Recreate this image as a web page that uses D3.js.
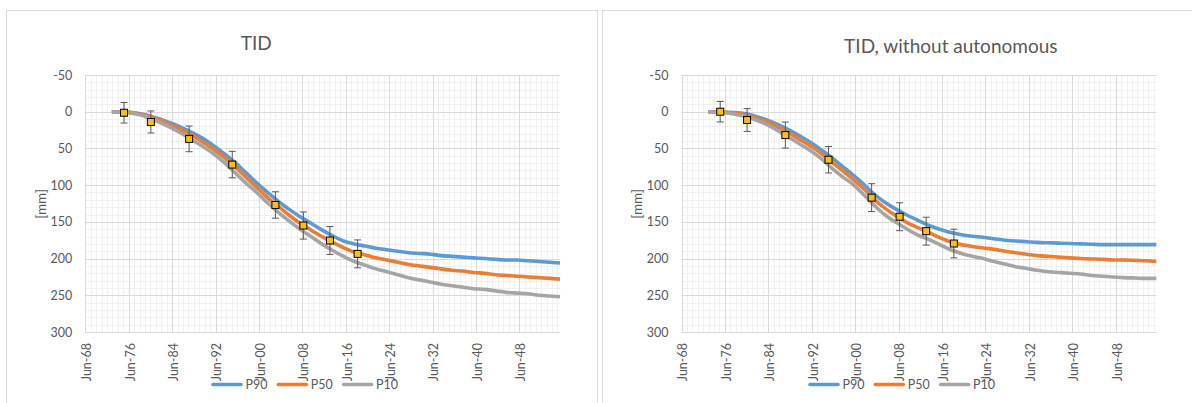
<!DOCTYPE html>
<html><head><meta charset="utf-8">
<script src="https://cdn.jsdelivr.net/npm/d3@7"></script>
<style>body{margin:0;background:#fff} text{font-family:Lato, "Open Sans", sans-serif}</style>
</head><body><svg id="c" width="1192" height="403"></svg>
<script>
// ---- data ----
const years = [1973.3,1976,1978,1980,1982,1984,1986,1988,1990,1992,1994,1996,1998,2000,2002,2004,2006,2008,2010,2012,2014,2016,2018,2020,2022,2024,2026,2028,2030,2032,2034,2036,2038,2040,2042,2044,2046,2048,2050,2052,2054,2055.9];
const leftP90 = [0,0.5,2,5,9.5,15,21,28,36,46,57,69,83,97,110,122,133,143,152,161,169,176,180,183,186,188,190,192,193,194,196,197,198,199,200,201,202,202,203,204,205,206];
const leftP50 = [0,0.5,2.5,6,11,17.5,24.5,32,41,51,62,75,89,103,117,129,141,152,161,170,178,185,191,195,199,202,205,208,210,212,214,216,217,219,220,222,223,224,225,226,227,228];
const leftP10 = [0,1,3.5,8,14,21,29,38,47,57,69,83,97,110,124,137,149,160,170,180,189,197,204,209,214,218,222,226,229,232,235,237,239,241,242,244,246,247,248,250,251,252];
const rightP90 = [0,0.3,1,2.5,6,11,17,24,32,41,51,62,74,86,99,113,124,133,141,148,155,160,164.5,167.5,169.5,171,173,175,176,177,178,178.5,179,179.5,180,180.5,181,181,181,181,181,181];
const rightP50 = [0,0.5,2,4,8,13.5,20,28,37,46,56,68,80,92,105,120,132,142,151,158,164.5,171.5,177.5,181,183.5,185.5,187.5,190,192,194,196,197,198,199,200,200.5,201,202,202,202.5,203,204];
const rightP10 = [0,1,3,6,11,17,25,34,43,52,63,76,88,99,113,128,141,151,160,168,174,181,188,193,197,200,204,207.5,211,213.5,216,218,219,220,221,223,224,225,226,226.5,227,227];
const markerYears = [1975.55,1980.5,1987.55,1995.5,2003.45,2008.6,2013.5,2018.6];
const leftMarkers = [1.4,14,37,72,127,155,175.4,193.6];
const leftErrors = [14,15,17.5,18,18,18.5,19,19];
const rightMarkers = [0,11.3,31.8,65.4,117,143,162.7,179.5];
const rightErrors = [14,15.5,17.7,18,19,19,19,19.5];
const seriesNames = ["P90","P50","P10"];
const xTickYears = [1968,1976,1984,1992,2000,2008,2016,2024,2032,2040,2048];
const xTickLabels = ["Jun-68","Jun-76","Jun-84","Jun-92","Jun-00","Jun-08","Jun-16","Jun-24","Jun-32","Jun-40","Jun-48"];
const yTicks = [-50,0,50,100,150,200,250,300];
const yTickLabels = ["-50","0","50","100","150","200","250","300"];
const titles = ["TID","TID, without autonomous"];

// ---- styling ----
const colors = ["#5b9bd5","#ed7d31","#a5a5a5"];
const svg = d3.select("#c");
const JUN = 5/12;

function drawChart(cfg){
  const g = svg.append("g");
  g.append("rect").attr("x",cfg.px).attr("y",10.5).attr("width",cfg.pw).attr("height",420)
    .attr("fill","#fff").attr("stroke","#d9d9d9").attr("stroke-width",1);
  const x = d3.scaleLinear().domain([1968+JUN, 2055.9]).range([cfg.left, cfg.right]);
  const y = d3.scaleLinear().domain([-50,300]).range([75,332]);
  // minor grid
  const minorX = d3.range(1969,2056).map(v=>v+JUN).filter(v=>x(v)<=cfg.right);
  g.append("g").selectAll("line").data(minorX).join("line")
    .attr("x1",d=>Math.round(x(d))+0.5).attr("x2",d=>Math.round(x(d))+0.5).attr("y1",75).attr("y2",332)
    .attr("stroke","#f0f0f0");
  const minorY = d3.range(-50,301,10);
  g.append("g").selectAll("line").data(minorY).join("line")
    .attr("x1",cfg.left).attr("x2",cfg.right).attr("y1",d=>Math.round(y(d))+0.5).attr("y2",d=>Math.round(y(d))+0.5)
    .attr("stroke","#f0f0f0");
  // major grid
  g.append("g").selectAll("line").data(xTickYears).join("line")
    .attr("x1",d=>Math.round(x(d+JUN))+0.5).attr("x2",d=>Math.round(x(d+JUN))+0.5).attr("y1",75).attr("y2",332)
    .attr("stroke","#d9d9d9");
  g.append("g").selectAll("line").data(yTicks).join("line")
    .attr("x1",cfg.left).attr("x2",cfg.right).attr("y1",d=>Math.round(y(d))+0.5).attr("y2",d=>Math.round(y(d))+0.5)
    .attr("stroke","#d9d9d9");
  // y axis
  const ya = g.append("g").attr("transform",`translate(${cfg.left-13},0)`)
    .call(d3.axisLeft(y).tickValues(yTicks).tickFormat((d,i)=>yTickLabels[i]).tickSize(0).tickPadding(0));
  ya.select(".domain").remove();
  ya.selectAll("text").attr("fill","#595959").style("font-size","12.5px").attr("text-anchor","end");
  // x axis
  const xa = g.append("g").attr("transform","translate(0,332)")
    .call(d3.axisBottom(x).tickValues(xTickYears.map(v=>v+JUN)).tickFormat((d,i)=>xTickLabels[i]).tickSize(0));
  xa.select(".domain").remove();
  xa.selectAll("text").attr("fill","#595959").style("font-size","12.5px")
    .attr("x",0).attr("y",0).attr("dy","0.35em").attr("text-anchor","end")
    .attr("transform","translate(1,11) rotate(-90)");
  // y label
  g.append("text").attr("transform",`translate(${cfg.left-44},204) rotate(-90)`)
    .attr("text-anchor","middle").attr("dy","0.35em").attr("fill","#595959").style("font-size","13.5px").text("[mm]");
  // title
  g.append("text").attr("x",cfg.titleX).attr("y",cfg.titleY).attr("text-anchor","middle")
    .attr("fill","#595959").style("font-size","19px").text(cfg.title);
  // lines
  const line = d3.line().x((d,i)=>x(years[i])).y(d=>y(d)).curve(d3.curveMonotoneX);
  cfg.series.forEach((s,k)=>{
    g.append("path").datum(s).attr("d",line).attr("fill","none")
      .attr("stroke",colors[k]).attr("stroke-width",3.6).attr("stroke-linejoin","round").attr("stroke-linecap","butt");
  });
  // error bars and markers
  const eb = g.append("g").attr("stroke","#595959").attr("stroke-width",1);
  cfg.markers.forEach((v,i)=>{
    const cx = x(markerYears[i]), e = cfg.errors[i];
    eb.append("line").attr("x1",cx).attr("x2",cx).attr("y1",y(v-e)).attr("y2",y(v+e));
    eb.append("line").attr("x1",cx-3.5).attr("x2",cx+3.5).attr("y1",y(v-e)).attr("y2",y(v-e));
    eb.append("line").attr("x1",cx-3.5).attr("x2",cx+3.5).attr("y1",y(v+e)).attr("y2",y(v+e));
  });
  g.append("g").selectAll("rect").data(cfg.markers).join("rect")
    .attr("x",(d,i)=>x(markerYears[i])-3.5).attr("y",d=>y(d)-3.5).attr("width",7).attr("height",7)
    .attr("fill","#ffc000").attr("stroke","#000").attr("stroke-width",1);
  // legend
  const lg = g.append("g").attr("transform",`translate(${cfg.legendX},384.5)`);
  seriesNames.forEach((n,k)=>{
    const ox = k*65.3;
    lg.append("line").attr("x1",ox+1.5).attr("x2",ox+29.5).attr("y1",0).attr("y2",0)
      .attr("stroke",colors[k]).attr("stroke-width",3.6).attr("stroke-linecap","round");
    lg.append("text").attr("x",ox+34).attr("y",0).attr("dy","0.35em").attr("fill","#595959")
      .style("font-size","12.5px").text(n);
  });
}

drawChart({px:6.5,pw:591,left:85.3,right:560,titleX:256.3,titleY:49.5,title:titles[0],
  series:[leftP90,leftP50,leftP10],markers:leftMarkers,errors:leftErrors,legendX:211.5});
drawChart({px:602.5,pw:600,left:681.5,right:1156.3,titleX:950.8,titleY:52.5,title:titles[1],
  series:[rightP90,rightP50,rightP10],markers:rightMarkers,errors:rightErrors,legendX:808.5});
</script></body></html>
